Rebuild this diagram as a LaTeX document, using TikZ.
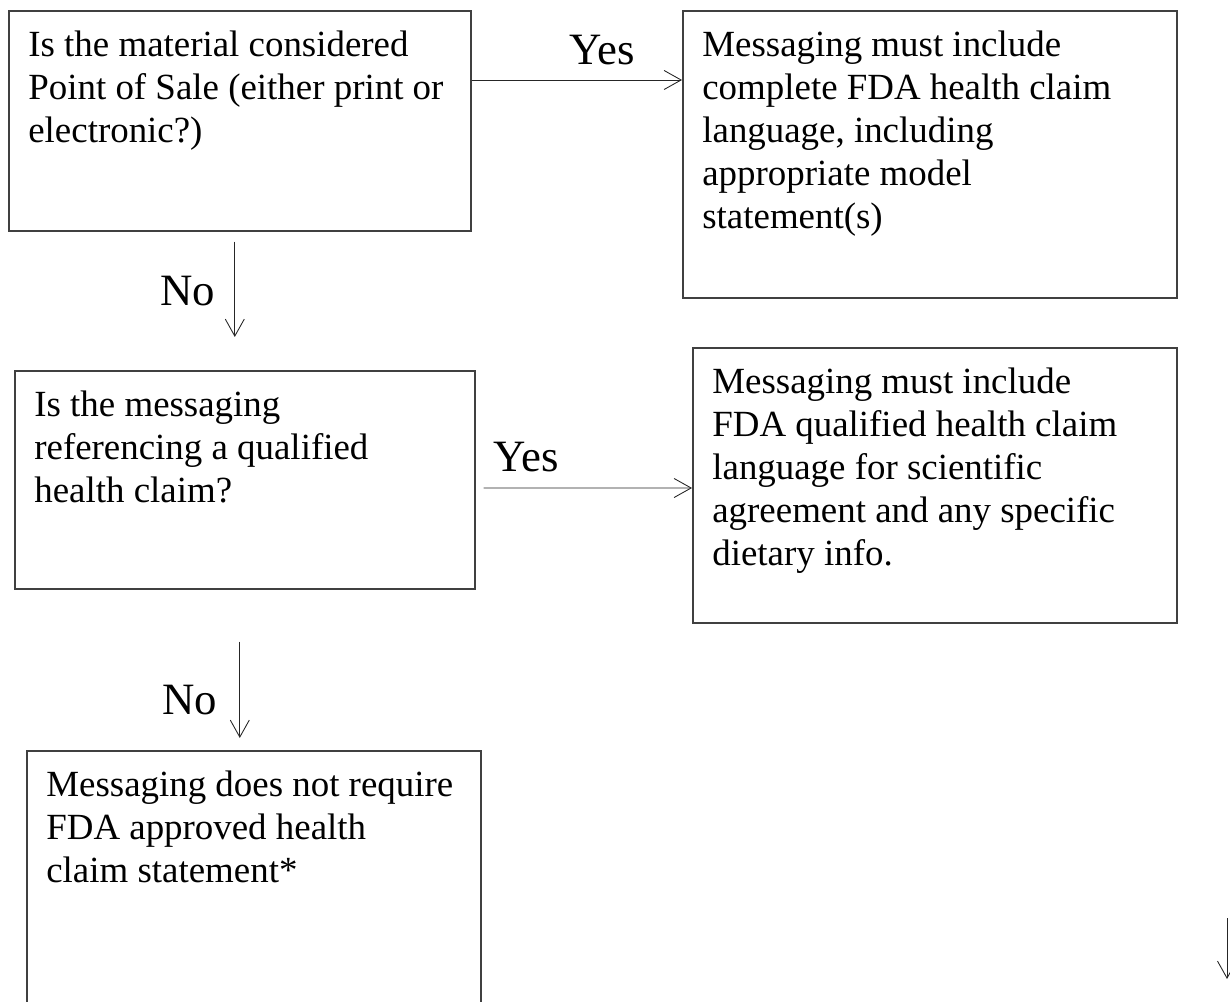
\documentclass[tikz,border=0pt]{standalone}
\usepackage{fontspec}
\setmainfont{Liberation Serif}
\usetikzlibrary{arrows.meta,positioning}
\begin{document}
\begin{tikzpicture}[>={Straight Barb[length=3.4mm,width=3.8mm]},x=1cm,y=1cm,
	qbox/.style={draw=black!75,line width=0.9pt,anchor=north west,inner sep=0pt},
	txt/.style={anchor=north west,align=left,inner sep=0pt,font=\fontsize{21}{24.4}\selectfont},
	lbl/.style={inner sep=0pt,font=\fontsize{25.5}{30}\selectfont},
	flow/.style={->,line width=0.5pt,draw=black!85}]
	\useasboundingbox (0,0) rectangle (24.6,-20.04);
	\clip (0,0) rectangle (24.6,-20.04);
	% cac hop
	\node[qbox,minimum width=9.24cm,minimum height=4.40cm] (q1) at (0.16,-0.20) {};
	\node[qbox,minimum width=9.88cm,minimum height=5.74cm] (a1) at (13.64,-0.20) {};
	\node[qbox,minimum width=9.20cm,minimum height=4.36cm] (q2) at (0.28,-7.40) {};
	\node[qbox,minimum width=9.68cm,minimum height=5.50cm] (a2) at (13.84,-6.94) {};
	\node[qbox,minimum width=9.08cm,minimum height=5.40cm] (a3) at (0.52,-15.00) {}; % bi cat o duoi
	% chu trong hop
	\node[txt] (q1t) at ([shift={(0.40,-0.42)}]q1.north west) {Is the material considered\\Point of Sale (either print or\\electronic?)};
	\node[txt] (a1t) at ([shift={(0.40,-0.42)}]a1.north west) {Messaging must include\\complete FDA health claim\\language, including\\appropriate model\\statement(s)};
	\node[txt] (q2t) at ([shift={(0.40,-0.42)}]q2.north west) {Is the messaging\\referencing a qualified\\health claim?};
	\node[txt] (a2t) at ([shift={(0.40,-0.42)}]a2.north west) {Messaging must include\\FDA qualified health claim\\language for scientific\\agreement and any specific\\dietary info.};
	\node[txt] (a3t) at ([shift={(0.40,-0.42)}]a3.north west) {Messaging does not require\\FDA approved health\\claim statement*};
	% mui ten
	\draw[flow] ([yshift=-1.40cm]q1.north east) -- ([yshift=-1.40cm]q1.north east -| a1.west)
		node[lbl,above=0.3cm,pos=0.62] (y1) {Yes};
	\draw[flow] ([shift={(-0.10,-0.20)}]q1.south) -- ([xshift=-0.10cm,yshift=0.66cm]q1.south |- q2.north)
		node[lbl,left=0.38cm,pos=0.52] (n1) {No};
	\draw[flow] ([shift={(0.16,-2.36)}]q2.north east) -- ([yshift=-2.36cm]q2.north east -| a2.west)
		node[lbl,above=0.32cm,pos=0.205] (y2) {Yes};
	\draw[flow] ([shift={(-0.10,-1.04)}]q2.south) -- ([xshift=-0.10cm,yshift=0.24cm]q2.south |- a3.north)
		node[lbl,left=0.44cm,pos=0.61] (n2) {No};
	\coordinate (s1) at (24.54,-18.36);
	\coordinate (s2) at (24.54,-19.58);
	\draw[flow] (s1) -- (s2);
\end{tikzpicture}
\end{document}
